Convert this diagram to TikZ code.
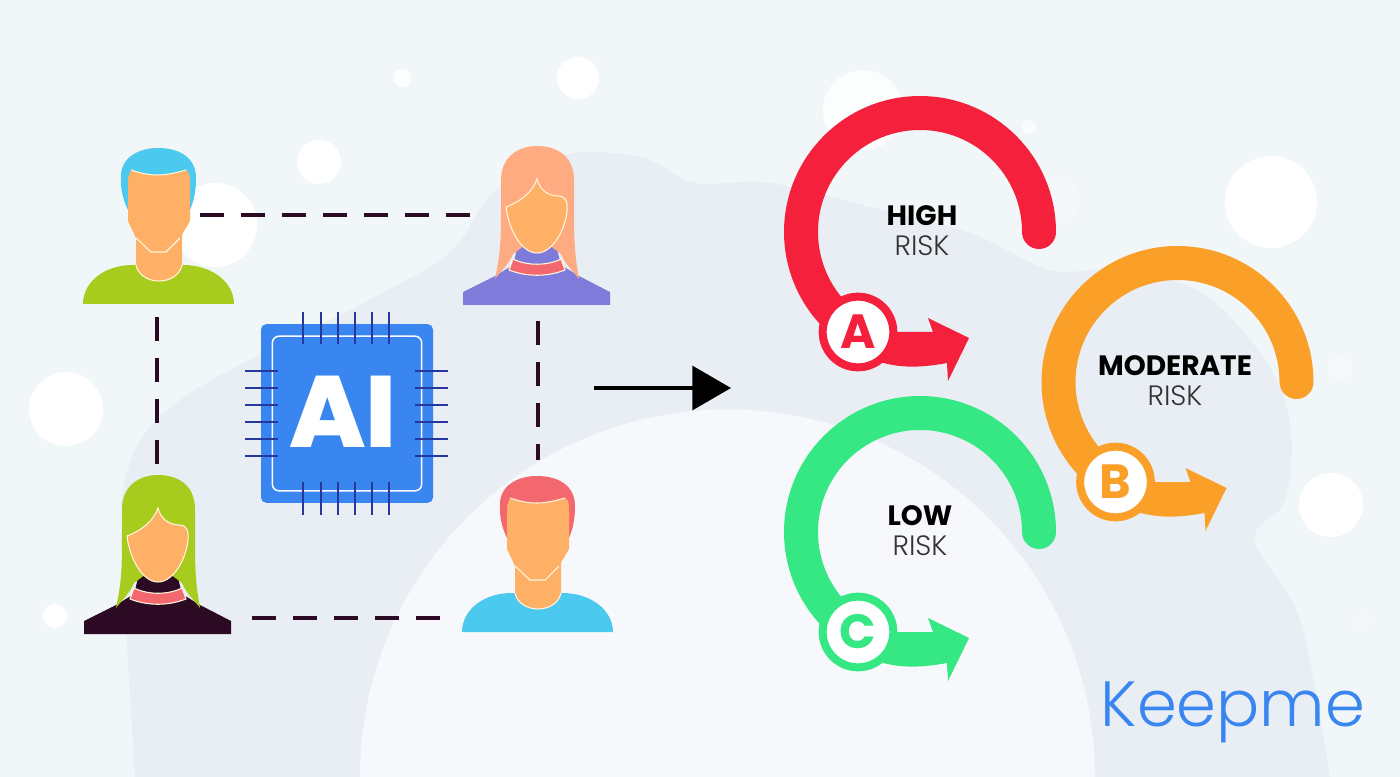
\documentclass[tikz,border=0pt]{standalone}
\usepackage{fontspec}
\usetikzlibrary{arrows.meta}
\setmainfont{Poppins}
\newfontfamily\riskfont{Poppins Light}
\newfontfamily\heavyfont{Poppins ExtraBold}
\definecolor{bgbase}{HTML}{F1F6F8}
\definecolor{hilltone}{HTML}{E9EEF5}
\definecolor{domelight}{HTML}{F6F8FC}
\definecolor{facetone}{HTML}{FFB067}
\definecolor{rimtone}{HTML}{FFF6DC}
\definecolor{darkplum}{HTML}{2C0A24}
\definecolor{skyblue}{HTML}{4CC9EE}
\definecolor{limegreen}{HTML}{A8CC1E}
\definecolor{peach}{HTML}{FFAB82}
\definecolor{lilac}{HTML}{7F7BDB}
\definecolor{coral}{HTML}{F3686F}
\definecolor{chipblue}{HTML}{3A86F0}
\definecolor{pinblue}{HTML}{26389B}
\definecolor{riskred}{HTML}{F5203C}
\definecolor{riskorange}{HTML}{FA9F28}
\definecolor{riskgreen}{HTML}{36E884}
\tikzset{
  blob/.style={fill=white,draw=none},
  rim/.style={draw=rimtone,line width=0.8pt},
  linkline/.style={draw=darkplum,line width=3pt,dash pattern=on 18pt off 12.8pt},
  pinline/.style={draw=pinblue,line width=2.2pt},
  badge/.style={circle,draw=#1,fill=white,line width=6pt,minimum size=53pt,inner sep=0pt,text=#1},
  headtext/.style={inner sep=0pt,font=\fontsize{21}{21}\selectfont\bfseries},
  subtext/.style={inner sep=0pt,font=\fontsize{21}{21}\selectfont\riskfont,text=black!80},
}
% man: x, y, hair, shirt
\newcommand{\manfig}[4]{
\begin{scope}[shift={(#1,#2)}]
\fill [#4] (-75,156) .. controls (-75,135) and (-55,117) .. (-25,117) -- (25,117) .. controls (55,117) and (76,135) .. (76,156) -- cycle;
\fill [#3] (-30,62) .. controls (-38,45) and (-37,35) .. (-37,28) .. controls (-37,10) and (-20,0) .. (0,0) .. controls (22,0) and (38,10) .. (38,30) .. controls (38,40) and (37,50) .. (32,62) -- cycle;
\fill [facetone] (-22,85) -- (-22,117) .. controls (-20,127) and (-10,133) .. (1,133) .. controls (12,133) and (22,127) .. (24,117) -- (24,85) -- cycle;
\draw [rim] (-22,117) .. controls (-20,127) and (-10,133) .. (1,133) .. controls (12,133) and (22,127) .. (24,117);
\fill [facetone] (-27,22) .. controls (-15,26) and (-8,27) .. (0,27) .. controls (8,27) and (18,25) .. (28,22) .. controls (31,23) and (32,28) .. (32,32) -- (32,73) -- (22,90) -- (8,104) -- (-7,104) -- (-22,90) -- (-30,73) -- (-30,30) -- cycle;
\draw [rim] (-27,22) .. controls (-15,26) and (-8,27) .. (0,27) .. controls (8,27) and (18,25) .. (28,22);
\draw [rim] (-22,90) -- (-7,104) -- (8,104) -- (22,90);
\end{scope}
}
% woman: x, y, hair, shirt
\newcommand{\womanfig}[4]{
\begin{scope}[shift={(#1,#2)}]
\fill [#4] (-74,159) -- (-74,146) -- (-42,130) -- (-24,119) -- (-18,95) -- (18,95) -- (24,119) -- (42,130) -- (73,146) -- (73,159) -- cycle;
\filldraw [rim,fill=coral] (-24,113) .. controls (-10,120) and (10,120) .. (24,113) -- (28,124) .. controls (10,131) and (-10,131) .. (-28,124) -- cycle;
\fill [#3] (-42,133) .. controls (-36,105) and (-36,90) .. (-36,60) -- (-36,34) .. controls (-36,12) and (-20,0) .. (0,0) .. controls (22,0) and (37,12) .. (37,34) -- (37,60) .. controls (37,90) and (37,105) .. (42,133) .. controls (36,125) and (28,118) .. (24,108) -- (0,90) -- (-24,108) .. controls (-28,118) and (-36,125) .. (-42,133) -- cycle;
\filldraw [rim,fill=facetone] (0,33) .. controls (-4,45) and (-15,55) .. (-31,61) .. controls (-28,85) and (-15,107) .. (0,107) .. controls (15,107) and (28,85) .. (30,65) .. controls (31,55) and (28,50) .. (22,50) .. controls (12,50) and (3,45) .. (0,33) -- cycle;
\end{scope}
}
% meter: x, y, colour, letter
\newcommand{\riskmeter}[4]{
\begin{scope}[shift={(#1,#2)}]
\draw [#3,line width=25.5pt,line cap=round] (119,0) arc [start angle=0,end angle=-240,radius=119];
\fill [#3] (-35,100) -- (13,100) -- (8,86) -- (49,106) -- (28,149) -- (27,131) .. controls (0,136) and (-20,136) .. (-40,130) -- cycle;
\node (badge#4) [badge=#3] at (-62,100) {\fontsize{36}{36}\selectfont\bfseries #4};
\end{scope}
}
\begin{document}
\begin{tikzpicture}[x=0.75pt,y=0.75pt,yscale=-1,xscale=1]
\useasboundingbox (0,0) rectangle (1400,777);

%Background
\fill [bgbase] (0,0) rectangle (1400,777);
\foreach \cx/\cy/\cr/\co in {578/78/21/1,402/78/9/.8,319/162/22/1,215/225/42/1,66/409/37/1,55/616/12/1,863/110/40/.8,1029/127/7/.6,1055/200/25/.3,1271/202/46/1,1340/368/12/.4,1331/505/32/1,1363/622/9/.15}
  \fill [blob,opacity=\co] (\cx,\cy) circle (\cr);
\fill [hilltone,opacity=.9] plot [smooth,tension=.6] coordinates {(135,777) (125,600) (125,480) (180,400) (356,307) (449,253) (493,193) (560,157) (600,152) (650,160) (695,183) (770,183) (870,207) (970,233) (1050,270) (1110,270) (1197,290) (1263,357) (1290,423) (1285,500) (1255,540) (1300,620) (1330,777)} -- cycle;
\fill [domelight] (360,777) arc [start angle=180,end angle=360,radius=367.5];

%People
\manfig{158}{148}{skyblue}{limegreen}
\womanfig{537}{146}{peach}{lilac}
\womanfig{158}{475}{limegreen}{darkplum}
\manfig{537}{476}{coral}{skyblue}

%Dashed links
\coordinate (manAlink) at (200,215);
\coordinate (womanAlink) at (471,215);
\coordinate (manAdown) at (157,317);
\coordinate (womanBup) at (157,465);
\coordinate (womanAdown) at (538,321);
\coordinate (manBup) at (538,460);
\coordinate (womanBlink) at (252,618);
\coordinate (manBlink) at (441,618);
\draw [linkline] (manAlink) -- (womanAlink);
\draw [linkline] (manAdown) -- (womanBup);
\draw [linkline] (womanAdown) -- (manBup);
\draw [linkline] (womanBlink) -- (manBlink);

%Chip
\foreach \px in {303,321,338,355,372,389} {
  \draw [pinline] (\px,312) -- (\px,344);
  \draw [pinline] (\px,482) -- (\px,515);
}
\node (chip) [fill=chipblue,rounded corners=4pt,minimum width=129pt,minimum height=134pt,inner sep=0pt] at (347,413.5) {};
\node (chipframe) [draw=white,rounded corners=5pt,line width=1.1pt,minimum width=112pt,minimum height=116pt,inner sep=0pt] at (347,413.5) {};
\foreach \px in {303,321,338,355,372,389} {
  \draw [pinline] (\px,312) -- (\px,344);
  \draw [pinline] (\px,482) -- (\px,515);
}
\foreach \py in {371,388,405,422,439,456} {
  \draw [pinline] (245,\py) -- (278,\py);
  \draw [pinline] (415,\py) -- (448,\py);
}
\node (chiplabel) [text=white,inner sep=0pt,font=\fontsize{76}{76}\selectfont\heavyfont] at (343,412) {AI};

%Main arrow
\coordinate (flowstart) at (594,388);
\coordinate (flowend) at (731,388);
\draw [black,line width=2.4pt,-{Triangle[length=29pt,width=33pt]}] (flowstart) -- (flowend);

%Risk meters
\riskmeter{920}{232}{riskred}{A}
\riskmeter{1177.5}{382}{riskorange}{B}
\riskmeter{920}{532}{riskgreen}{C}

%Labels
\node (highhead) [headtext] at (922,216) {HIGH};
\node (highsub) [subtext] at (922,246) {RISK};
\node (modhead) [headtext] at (1175,366) {MODERATE};
\node (modsub) [subtext] at (1175,396) {RISK};
\node (lowhead) [headtext] at (920,516) {LOW};
\node (lowsub) [subtext] at (920,546) {RISK};
\node (brand) [inner sep=0pt,text=chipblue,font=\fontsize{48}{48}\selectfont\riskfont] at (1233,712) {Keepme};

\end{tikzpicture}
\end{document}
